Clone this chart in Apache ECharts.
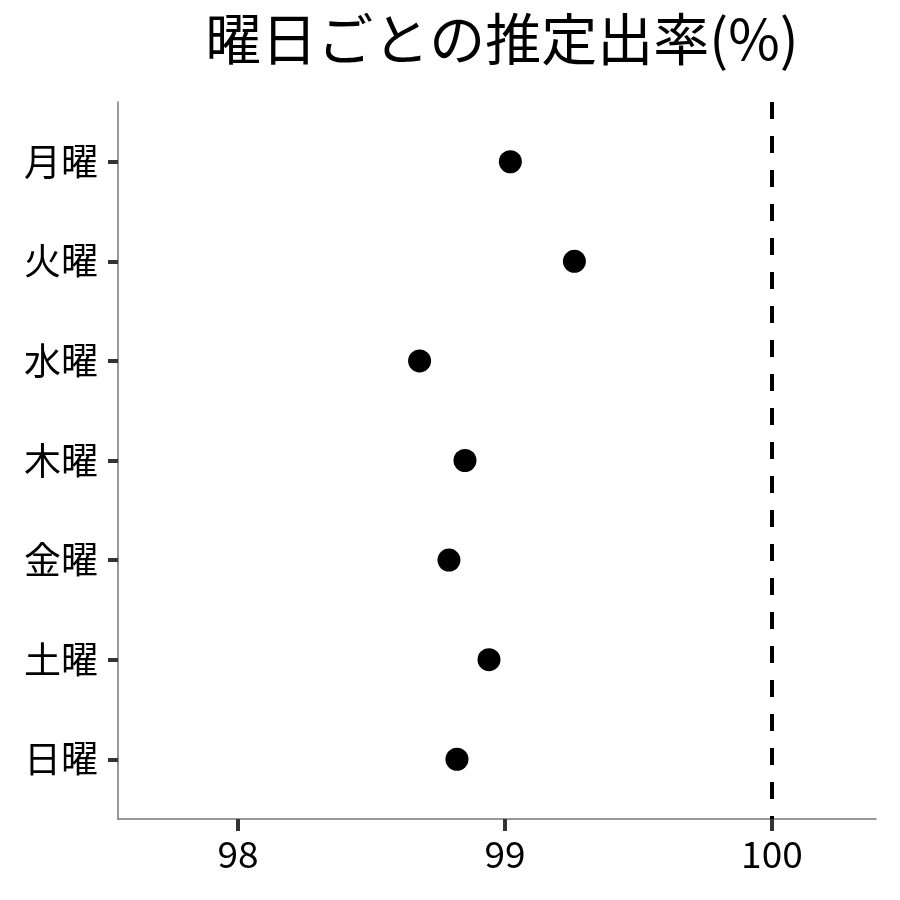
<!DOCTYPE html>
<html>
<head>
<meta charset="utf-8">
<script src="https://cdn.jsdelivr.net/npm/echarts@6/dist/echarts.min.js"></script>
<style>
  html, body { margin: 0; padding: 0; background: #fff; }
  #chart { width: 900px; height: 900px; }
</style>
</head>
<body>
<div id="chart"></div>
<script>
// 曜日ごとの推定出率
var days = ['月曜', '火曜', '水曜', '木曜', '金曜', '土曜', '日曜'];
var rates = [99.02, 99.26, 98.68, 98.85, 98.79, 98.94, 98.82];
var xTicks = [98, 99, 100];
var refLine = 100;

var font = '"Noto Sans CJK JP", "Noto Sans", sans-serif';

var points = [];
for (var i = 0; i < days.length; i++) {
  points.push([rates[i], i]);
}
var dayIdx = [];
for (var j = 0; j < days.length; j++) dayIdx.push(j);

var chart = echarts.init(document.getElementById('chart'));
var option = {
  backgroundColor: '#fff',
  animation: false,
  title: {
    text: '曜日ごとの推定出率(%)',
    left: 497,
    textAlign: 'center',
    top: 6,
    textStyle: { fontFamily: font, fontSize: 56, fontWeight: 'normal', color: '#000' }
  },
  grid: { left: 118, right: 24, top: 102, bottom: 81 },
  xAxis: {
    type: 'value',
    min: 97.55,
    max: 100.39,
    splitLine: { show: false },
    axisLine: { show: true, onZero: false, lineStyle: { color: '#777', width: 1.5 } },
    axisTick: { show: true, customValues: xTicks, length: 12, lineStyle: { color: '#333', width: 4 } },
    axisLabel: { customValues: xTicks, margin: 16, fontFamily: font, fontSize: 37, color: '#000' }
  },
  yAxis: {
    type: 'value',
    min: -0.6,
    max: 6.6,
    inverse: true,
    splitLine: { show: false },
    axisLine: { show: true, onZero: false, lineStyle: { color: '#777', width: 1.5 } },
    axisTick: { show: true, customValues: dayIdx, length: 10, lineStyle: { color: '#333', width: 4 } },
    axisLabel: {
      customValues: dayIdx,
      margin: 20,
      fontFamily: font,
      fontSize: 37,
      color: '#000',
      formatter: function (v) { return days[Math.round(v)]; }
    }
  },
  series: [{
    type: 'scatter',
    data: points,
    symbolSize: 23,
    itemStyle: { color: '#000', opacity: 1 },
    markLine: {
      silent: true,
      symbol: 'none',
      label: { show: false },
      lineStyle: { color: '#000', type: [17, 17], width: 4 },
      data: [{ xAxis: refLine }]
    }
  }]
};
chart.setOption(option);
</script>
</body>
</html>
